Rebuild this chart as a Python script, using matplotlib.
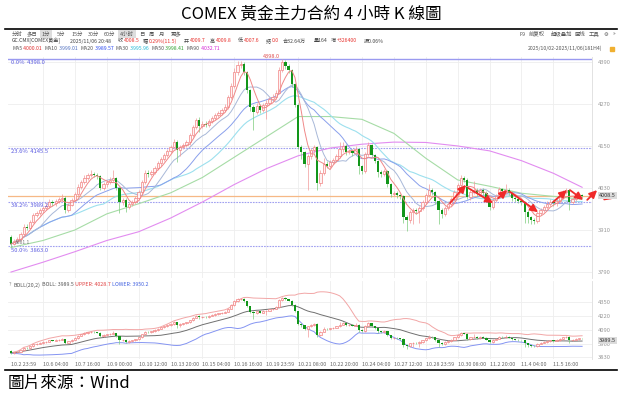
import numpy as np
import pandas as pd
import matplotlib
matplotlib.use("Agg")
import matplotlib.pyplot as plt
from matplotlib.lines import Line2D
from matplotlib.patches import Rectangle

plt.rcParams['font.family'] = ['Noto Sans CJK SC', 'DejaVu Sans']

# --- data ---
title = "COMEX 黃金主力合約 4 小時 K 線圖"
source = "圖片來源：Wind"

first_open = 3890
closes = [3870, 3878, 3884, 3898, 3920, 3916, 3934, 3952, 3958, 3966,
          3972, 3978, 3990, 3986, 3993, 3998, 4002, 3968, 3982, 3996,
          4012, 4032, 4046, 4058, 4066, 4070, 4068, 4064, 4030, 4040,
          4047, 4052, 4058, 4030, 3990, 3996, 3976, 3984, 3990, 4000,
          4018, 4046, 4074, 4070, 4076, 4088, 4100, 4112, 4124, 4136,
          4146, 4162, 4138, 4146, 4152, 4160, 4180, 4204, 4224, 4208,
          4214, 4210, 4222, 4230, 4238, 4244, 4252, 4262, 4290, 4322,
          4362, 4380, 4384, 4360, 4310, 4262, 4248, 4264, 4252, 4266,
          4272, 4284, 4290, 4302, 4368, 4390, 4378, 4366, 4326, 4268,
          4148, 4132, 4098, 4122, 4138, 4146, 4044, 4072, 4098, 4094,
          4104, 4110, 4122, 4140, 4150, 4132, 4136, 4130, 4140, 4092,
          4078, 4128, 4152, 4124, 4106, 4076, 4070, 4078, 4040, 4012,
          4016, 4010, 4006, 3948, 3938, 3962, 3966, 3964, 3974, 3990,
          4010, 4024, 4018, 3992, 3968, 3956, 3974, 3984, 3998, 4018,
          4038, 4058, 4054, 4004, 4018, 4024, 4014, 4024, 4016, 3996,
          3976, 3996, 4008, 4026, 4020, 4024, 4016, 4000, 3998, 3994,
          3990, 3962, 3946, 3940, 3936, 3958, 3968, 3976, 3984, 3990,
          3986, 3994, 4004, 4018, 4024, 3990, 3998, 4004, 4010, 4008.5]
highs = [3896, 3884, 3890, 3904, 3926, 3926, 3940, 3958, 3964, 3974,
         3980, 3986, 3998, 3996, 3999, 4004, 4012, 4006, 3988, 4002,
         4018, 4040, 4052, 4066, 4074, 4082, 4076, 4074, 4068, 4046,
         4054, 4060, 4080, 4062, 4034, 4002, 4000, 3990, 3996, 4006,
         4024, 4052, 4082, 4080, 4082, 4094, 4106, 4118, 4130, 4142,
         4152, 4170, 4166, 4152, 4158, 4166, 4186, 4210, 4230, 4232,
         4220, 4220, 4228, 4236, 4244, 4250, 4258, 4270, 4296, 4330,
         4372, 4392, 4392, 4390, 4364, 4314, 4268, 4272, 4270, 4274,
         4280, 4290, 4298, 4310, 4376, 4398, 4396, 4384, 4370, 4330,
         4272, 4154, 4136, 4128, 4144, 4154, 4150, 4080, 4116, 4106,
         4110, 4116, 4128, 4160, 4162, 4156, 4142, 4142, 4150, 4144,
         4096, 4134, 4160, 4156, 4128, 4110, 4082, 4084, 4082, 4044,
         4022, 4020, 4014, 4010, 3952, 3968, 3974, 3972, 3980, 3996,
         4016, 4040, 4030, 4022, 3996, 3972, 3980, 3990, 4004, 4024,
         4044, 4068, 4064, 4058, 4024, 4050, 4030, 4030, 4030, 4020,
         4000, 4002, 4014, 4032, 4030, 4040, 4030, 4020, 4006, 4002,
         3998, 3994, 3966, 3950, 3944, 3964, 3974, 3982, 3992, 3998,
         3996, 4000, 4010, 4024, 4030, 4028, 4004, 4010, 4014, 4014]
lows = [3862, 3866, 3874, 3880, 3894, 3910, 3912, 3930, 3946, 3952,
        3960, 3966, 3974, 3980, 3980, 3988, 3994, 3960, 3962, 3978,
        3992, 4008, 4028, 4040, 4052, 4060, 4060, 4056, 4024, 4024,
        4034, 4042, 4048, 4024, 3960, 3982, 3962, 3970, 3978, 3984,
        3996, 4014, 4040, 4062, 4064, 4070, 4082, 4094, 4106, 4118,
        4130, 4140, 4104, 4120, 4140, 4146, 4154, 4176, 4198, 4190,
        4202, 4204, 4204, 4216, 4224, 4232, 4238, 4246, 4256, 4284,
        4316, 4354, 4372, 4352, 4302, 4250, 4196, 4240, 4244, 4246,
        4228, 4266, 4278, 4284, 4298, 4362, 4370, 4358, 4318, 4260,
        4140, 4112, 4090, 4024, 4114, 4130, 4024, 4036, 4066, 4086,
        4088, 4098, 4104, 4116, 4134, 4124, 4126, 4122, 4124, 4070,
        4070, 4072, 4122, 4118, 4100, 4060, 4062, 4064, 4032, 4004,
        4006, 4002, 3998, 3930, 3906, 3930, 3926, 3956, 3930, 3968,
        3984, 4004, 4010, 3984, 3928, 3944, 3950, 3968, 3978, 3992,
        4012, 4032, 4046, 3998, 3996, 4012, 4006, 4008, 4010, 3990,
        3968, 3970, 3990, 4002, 4012, 4014, 4010, 3994, 3990, 3986,
        3982, 3930, 3930, 3928, 3926, 3930, 3952, 3962, 3970, 3978,
        3978, 3980, 3988, 3998, 4012, 3968, 3984, 3992, 3998, 4004]

# slow moving averages (they need history before the window)
ma_slow_bars = [0, 10, 20, 30, 40, 50, 60, 70, 80, 90, 100, 110, 120, 130, 140, 150, 160, 170, 179]
ma50_vals = [3860, 3880, 3910, 3956, 3985, 4016, 4060, 4118, 4176, 4234,
             4234, 4226, 4186, 4115, 4053, 4035, 4015, 4006, 3998]
ma90_vals = [3790, 3818, 3848, 3880, 3905, 3944, 3990, 4040, 4085, 4122,
             4144, 4155, 4161, 4160, 4150, 4136, 4108, 4072, 4032]

fib_names = ['0.0%', '23.6%', '38.2%', '50.0%']
fib_levels = [4398.0, 4145.5, 3989.2, 3863.0]
last_price = 4008.5
boll_last = 3989.5

main_ticks = [3790, 3910, 4030, 4150, 4270, 4390]
boll_ticks = [3830, 3960, 4090, 4220, 4350]

date_labels = ['10.2 23:59', '10.6 04:00', '10.7 16:00', '10.9 00:00', '10.10 12:00',
               '10.13 20:00', '10.15 04:00', '10.16 16:00', '10.19 23:59', '10.21 08:00',
               '10.22 20:00', '10.24 04:00', '10.27 12:00', '10.28 23:59', '10.30 08:00',
               '11.2 20:00', '11.4 04:00', '11.5 16:00']
date_bars = [0, 10, 20, 30, 40, 50, 60, 70, 80, 90, 100, 110, 120, 130, 140, 150, 160, 170]

# hand-drawn arrows on the chart: (bar0, price0, bar1, price1)
arrows = [(137.6, 3987, 142.6, 4039), (143.3, 4030, 151.1, 3987),
          (152.7, 4001, 155.5, 4024), (156.4, 4019, 165.2, 3961),
          (169.9, 3990, 174.3, 4024), (175.2, 4024, 179.3, 3996),
          (180.6, 3996, 183.7, 4024), (184.6, 4010, 188.7, 3999)]

# --- derived series ---
n = len(closes)
x = np.arange(n)
c = np.array(closes, dtype=float)
o = np.r_[first_open, c[:-1]]
h = np.array(highs, dtype=float)
l = np.array(lows, dtype=float)
s = pd.Series(c)
ma5 = s.rolling(5, min_periods=1).mean()
ma10 = s.rolling(10, min_periods=1).mean()
ma20 = s.rolling(20, min_periods=1).mean()
ma30 = s.rolling(30, min_periods=1).mean()
sd = s.rolling(20, min_periods=1).std(ddof=0).fillna(0)
boll_up = ma20 + 2 * sd
boll_dn = ma20 - 2 * sd

W, H = 622, 399
fig = plt.figure(figsize=(W / 100, H / 100), dpi=100)
renderer = fig.canvas.get_renderer()


def fx(px):
    return px / W


def fy(py):
    return 1 - py / H


def text_row(items, y, fs=3.6, gap=2.5, **kw):
    # items: (x or None, text, colour); None = glued to the previous piece
    end = -1e9
    for px, txt, col in items:
        start = end + 0.3 if px is None else max(px, end + gap)
        t = fig.text(fx(start), fy(y), txt, fontsize=fs, color=col, va='center', **kw)
        end = t.get_window_extent(renderer).x1
    return end


def candles(ax, width=0.72):
    up = c >= o
    dn = ~up
    ax.vlines(x[up], l[up], h[up], color='#f29a9a', lw=0.5, zorder=3)
    ax.vlines(x[dn], l[dn], h[dn], color='#7ccc7c', lw=0.5, zorder=3)
    body = np.maximum(np.abs(c - o), 1.5)
    ax.bar(x[up], body[up], bottom=np.minimum(o, c)[up], width=width,
           facecolor='#fff2f2', edgecolor='#f07878', linewidth=0.45, zorder=4)
    ax.bar(x[dn], body[dn], bottom=np.minimum(o, c)[dn], width=width,
           color='#12961a', linewidth=0, zorder=4)


def style_panel(ax, ticks, ylim):
    ax.set_xlim(-0.94, 182.1)
    ax.set_ylim(*ylim)
    ax.yaxis.tick_right()
    ax.set_yticks(ticks)
    ax.tick_params(axis='y', length=0, labelsize=4.2, labelcolor='#999999', pad=4)
    for sp in ['left', 'top', 'bottom']:
        ax.spines[sp].set_visible(False)
    ax.spines['right'].set_color('#dddddd')
    ax.spines['right'].set_linewidth(0.6)
    for b in date_bars[1:]:
        ax.axvline(b, color='#eeeeee', lw=0.6, zorder=0)
    for t in ticks:
        ax.axhline(t, color='#eeeeee', lw=0.6, zorder=0)


# --- main panel ---
ax = fig.add_axes([fx(8), fy(278), fx(584), (278 - 57) / H])
style_panel(ax, main_ticks, (3773, 4404))
ax.set_xticks([])

for name, lev in zip(fib_names, fib_levels):
    if name == '0.0%':
        ax.axhline(lev, color='#9a9af0', lw=1.0, zorder=1)
    else:
        ax.axhline(lev, color='#a0a0f0', lw=0.8, ls=(0, (1.5, 1)), zorder=1)
    ax.text(0, lev - 3, f"{name}  {lev:.1f}", fontsize=4.2, color='#5a5ae0',
            va='top', ha='left', zorder=6)
ax.axhline(last_price, color='#f6b886', lw=0.9, zorder=1)

ax.plot(ma_slow_bars, ma90_vals, color='#e28cf0', lw=0.8, zorder=2)
ax.plot(ma_slow_bars, ma50_vals, color='#a6dca6', lw=0.8, zorder=2)
ax.plot(x, ma30, color='#9ce0ee', lw=0.8, zorder=2)
ax.plot(x, ma20, color='#8aa0ec', lw=0.7, zorder=2)
ax.plot(x, ma10, color='#a8b8d8', lw=0.7, zorder=2)
candles(ax)
ax.plot(x, ma5, color='#f08888', lw=0.7, zorder=5)

ax.text(84.2, 4399, "4398.0", fontsize=4, color='#e05050', ha='right', va='bottom', zorder=6)
ax.text(1.2, 3866, "3861.1", fontsize=3.6, color='#777777', ha='left', va='bottom', zorder=6)

for x0, y0, x1, y1 in arrows:
    ax.annotate('', xy=(x1, y1), xytext=(x0, y0), annotation_clip=False,
                arrowprops=dict(arrowstyle='-|>,head_length=0.45,head_width=0.22',
                                color='#f02a2a', lw=1.3, shrinkA=0, shrinkB=0),
                zorder=7)

ax.text(1.012, last_price, f"{last_price:.1f}", transform=ax.get_yaxis_transform(),
        fontsize=4, color='#333333', ha='left', va='center',
        bbox=dict(boxstyle='square,pad=0.25', fc='#dcdcdc', ec='none'), zorder=8)

# --- BOLL panel ---
ax2 = fig.add_axes([fx(8), fy(359), fx(584), (359 - 281) / H])
style_panel(ax2, boll_ticks, (3815, 4550))
ax2.plot(x, boll_up, color='#f2a6a6', lw=0.7, zorder=2)
ax2.plot(x, ma20, color='#707070', lw=0.7, zorder=2)
ax2.plot(x, boll_dn, color='#8494f2', lw=0.7, zorder=2)
candles(ax2, width=0.7)
ax2.set_xticks(date_bars)
ax2.set_xticklabels(date_labels, ha='left', fontsize=3.9, color='#666666')
ax2.tick_params(axis='x', length=0, pad=2)
ax2.text(1.012, boll_last, f"{boll_last:.1f}", transform=ax2.get_yaxis_transform(),
         fontsize=4, color='#333333', ha='left', va='center',
         bbox=dict(boxstyle='square,pad=0.25', fc='#dcdcdc', ec='none'), zorder=8)

boll_row = [(9, "?", '#888888'), (13, "BOLL(20,2)", '#555555'), (None, " BOLL: 3989.5", '#555555'),
            (None, " UPPER: 4028.7", '#e04040'), (None, " LOWER: 3950.2", '#4060e0')]
text_row(boll_row, 285, fs=3.8)

# --- header ---
fig.text(0.5, fy(15), title, fontsize=12, ha='center', va='center',
         family=['Noto Sans CJK TC', 'DejaVu Sans'])
fig.add_artist(Line2D([fx(5), fx(617)], [fy(29), fy(29)], color='black', lw=1.2))
fig.add_artist(Line2D([fx(5), fx(617)], [fy(370), fy(370)], color='black', lw=1.2))

toolbar = [(12, "分时"), (27, "多日"), (42, "1分"), (57, "5分"), (72, "15分"), (88, "30分"),
           (104, "60分"), (120, "4小时"), (139, "日"), (149, "周"), (159, "月"), (171, "更多")]
for px, txt in toolbar:
    t = fig.text(fx(px), fy(34), txt, fontsize=3.9, color='#555555', va='center')
    if txt in ("1分", "4小时"):
        t.set_bbox(dict(boxstyle='square,pad=0.3', fc='#dddddd', ec='none'))
tools = [(520, "F9"), (528, "前复权"), (551, "超级叠加"), (574, "画线"), (589, "工具"),
         (603, "⚙"), (613, "»")]
text_row([(px, txt, '#555555') for px, txt in tools], 34, fs=3.9)

red = '#e8322e'
grey = '#444444'
row2 = [(12, "GC.CMX[COMEX黄金]", grey), (70, "2025/11/06 20:48", grey),
        (118, "收", grey), (None, "4008.5", red), (143, "幅", grey),
        (None, "0.29%(11.5)", red), (184, "开", grey), (None, "4009.7", red),
        (210, "高", grey), (None, "4009.8", red), (238, "低", grey),
        (None, "4007.6", red), (266, "结", grey), (None, "0.0", red),
        (283, "合32.64万", grey), (314, "量164", grey), (331, "增", grey),
        (None, "+326400", red), (364, "振0.06%", grey)]
text_row(row2, 41, fs=3.7)

row3 = [(12, "MA5", '#555555'), (None, " 4000.01", '#e03030'), (44, "MA10", '#555555'),
        (None, " 3999.01", '#5070c0'), (75, "MA20", '#555555'), (None, " 3989.57", '#2a48f0'),
        (105, "MA30", '#555555'), (None, " 3995.96", '#22b8d4'), (137, "MA50", '#555555'),
        (None, " 3998.41", '#30a030'), (167, "MA90", '#555555'), (None, " 4032.71", '#d424d4')]
text_row(row3, 48, fs=3.7)
fig.text(fx(528), fy(48), "2025/10/02-2025/11/06(181H4)", fontsize=3.7, color='#555555',
         va='center')
fig.add_artist(Rectangle((fx(610), fy(51)), fx(4), 4 / H, color='#f0b030'))

fig.text(fx(8), fy(383), source, fontsize=12, ha='left', va='center',
         family=['Noto Sans CJK TC', 'DejaVu Sans'])

fig.savefig("out.png", dpi=100)
